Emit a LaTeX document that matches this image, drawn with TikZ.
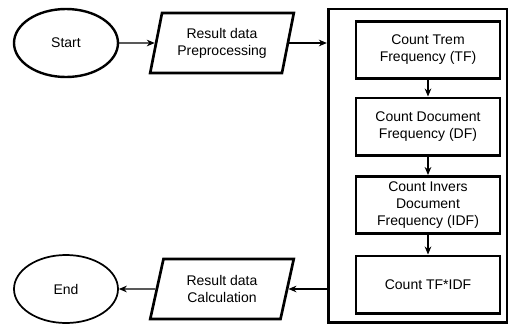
\documentclass[tikz,border=0pt]{standalone}
\usepackage{fontspec}
\setmainfont{Liberation Sans}
\usetikzlibrary{shapes.geometric,arrows.meta}

\tikzset{
  terminal/.style={draw, ellipse, line width=1.8pt, minimum width=78pt, minimum height=51pt},
  io/.style={draw, trapezium, trapezium left angle=76, trapezium right angle=104, trapezium stretches=true,
    line width=2pt, minimum width=108pt, minimum height=45pt, align=center},
  process/.style={draw, rectangle, line width=2pt, minimum width=108pt, minimum height=43pt, align=center},
  group/.style={draw, rectangle, line width=2pt, minimum width=134pt, minimum height=235pt},
  flow/.style={-{Stealth[length=6pt,width=5pt]}, line width=0.8pt}
}

\begin{document}
\begin{tikzpicture}[x=0.75pt, y=-0.75pt, font=\fontsize{10.5}{12.75}\selectfont]
				\useasboundingbox (0,0) rectangle (511,325);

				% Start / End
				\node[terminal] (start) at (66,43) {Start};
				\node[terminal, line width=1.3pt] (end) at (66,289) {End};

				% Input / output data
				\node[io] (prep) at (222,43) {Result data\\Preprocessing};
				\node[io] (calc) at (222,289) {Result data\\Calculation};

				% TF-IDF block
				\node[group] (tfidf) at (417.5,165.5) {};
				\node[process] (tf) at (428,50) {Count Trem\\Frequency (TF)};
				\node[process] (df) at (428,126.5) {Count Document\\Frequency (DF)};
				\node[process] (idf) at (428,205) {Count Invers\\Document\\Frequency (IDF)};
				\node[process] (mult) at (428,284.5) {Count TF*IDF};

				% Connections
				\draw[flow] (start) -- (prep);
				\draw[flow] (prep.east) -- (prep.east -| tfidf.west);
				\draw[flow] (tf) -- (df);
				\draw[flow] (df) -- (idf);
				\draw[flow] (idf) -- (mult);
				\draw[flow] (calc.east -| tfidf.west) -- (calc.east);
				\draw[flow] (calc) -- (end);
			\end{tikzpicture}
\end{document}
